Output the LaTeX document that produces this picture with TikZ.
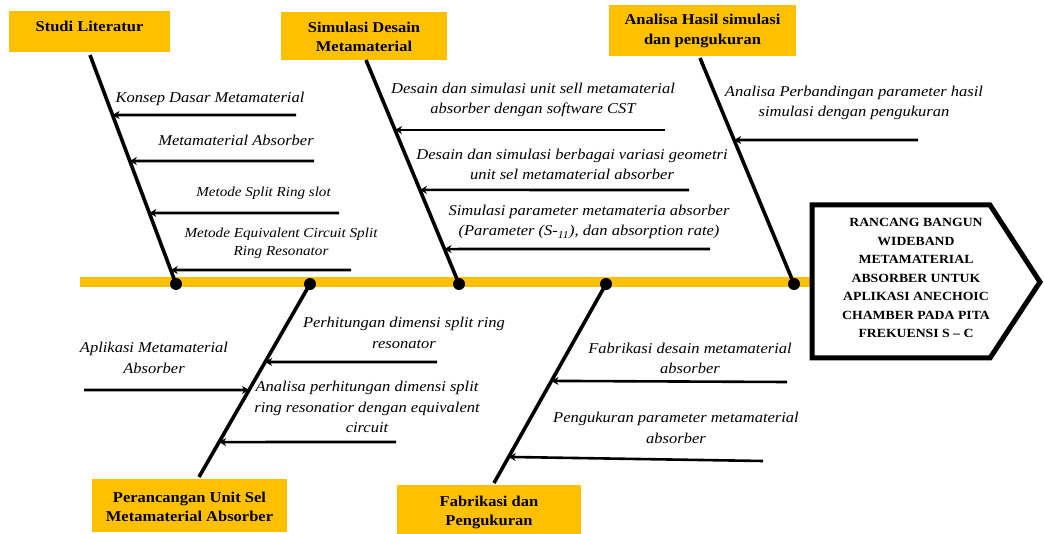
\documentclass[tikz,border=0pt]{standalone}
\usepackage{fontspec}
\setmainfont{Liberation Serif}[FakeStretch=1.1]
\usetikzlibrary{calc,arrows.meta}
\definecolor{ylw}{HTML}{FFC000}
\begin{document}
\begin{tikzpicture}[x=1pt,y=-1pt,
  catbox/.style={fill=ylw,inner sep=0pt,anchor=north west},
  cattext/.style={font=\fontsize{15}{19.5}\selectfont\bfseries,align=center,inner sep=0pt},
  bone/.style={line width=3.6pt},
  arr/.style={line width=2.6pt,-{Stealth[length=7pt,width=8pt]}},
  lbl/.style={font=\fontsize{15}{20.5}\selectfont\itshape,align=center,inner sep=0pt},
  dot/.style={circle,fill=black,inner sep=0pt,minimum size=12pt}]
\useasboundingbox (0,0) rectangle (1044,534);
% spine
\draw[ylw,line width=10pt] (80,282) -- (812,282);
% head
\coordinate (h1) at (812,205);
\coordinate (h2) at (990,205);
\coordinate (h3) at (1040,282);
\coordinate (h4) at (990,358);
\coordinate (h5) at (812,358);
\draw[line width=5pt,line join=miter,fill=white] (h1) -- (h2) -- (h3) -- (h4) -- (h5) -- cycle;
\node[font=\fontsize{12.5}{18.5}\selectfont\bfseries,align=center] (head) at (916,278)
 {RANCANG BANGUN\\WIDEBAND\\METAMATERIAL\\ABSORBER UNTUK\\APLIKASI ANECHOIC\\CHAMBER PADA PITA\\FREKUENSI S -- C};
% category boxes
\node[catbox,minimum width=161pt,minimum height=41pt] (c1) at (9,11) {};
\node[cattext] (c1t) at (89.5,26) {Studi Literatur};
\node[catbox,minimum width=166pt,minimum height=48pt] (c2) at (281,12) {};
\node[cattext] (c2t) at (364,37) {Simulasi Desain\\Metamaterial};
\node[catbox,minimum width=187pt,minimum height=51pt] (c3) at (609,5) {};
\node[cattext] (c3t) at (702.5,31) {Analisa Hasil simulasi\\dan pengukuran};
\node[catbox,minimum width=195pt,minimum height=53pt] (c4) at (92,479) {};
\node[cattext] (c4t) at (189.5,507) {Perancangan Unit Sel\\Metamaterial Absorber};
\node[catbox,minimum width=184pt,minimum height=49pt] (c5) at (397,485) {};
\node[cattext] (c5t) at (489,512.5) {Fabrikasi dan\\Pengukuran};
% bones
\coordinate (b1t) at (90,55);  \node[dot] (d1) at (176,284) {};
\coordinate (b2t) at (366,60); \node[dot] (d2) at (459,284) {};
\coordinate (b3t) at (700,58); \node[dot] (d3) at (794,284) {};
\node[dot] (d4) at (310,284) {}; \coordinate (b4b) at (199,477);
\node[dot] (d5) at (606,284) {}; \coordinate (b5b) at (494,483);
\draw[bone] (b1t) -- (d1.center);
\draw[bone] (b2t) -- (d2.center);
\draw[bone] (b3t) -- (d3.center);
\draw[bone] (d4.center) -- (b4b);
\draw[bone] (d5.center) -- (b5b);
% bone 1 arrows
\coordinate (a11) at (296,115); \coordinate (a12) at (314,161);
\coordinate (a13) at (339,213); \coordinate (a14) at (351,270);
\draw[arr] (a11) -- ($(b1t)!0.262!(d1.center)$);
\draw[arr] (a12) -- ($(b1t)!0.463!(d1.center)$);
\draw[arr] (a13) -- ($(b1t)!0.690!(d1.center)$);
\draw[arr] (a14) -- ($(b1t)!0.939!(d1.center)$);
\node[lbl] (l11) at (210,99) {Konsep Dasar Metamaterial};
\node[lbl] (l12) at (236,140) {Metamaterial Absorber};
\node[lbl,font=\fontsize{13.7}{18.5}\selectfont\itshape] (l13) at (263.5,193) {Metode Split Ring slot};
\node[lbl,font=\fontsize{13.8}{18.5}\selectfont\itshape] (l14) at (281,243) {Metode Equivalent Circuit Split\\Ring Resonator};
% bone 2 arrows
\coordinate (a21) at (665,130); \coordinate (a22) at (689,190); \coordinate (a23) at (710,249);
\draw[arr] (a21) -- ($(b2t)!0.3125!(d2.center)$);
\draw[arr] (a22) -- ($(b2t)!0.580!(d2.center)$);
\draw[arr] (a23) -- ($(b2t)!0.844!(d2.center)$);
\node[lbl] (l21) at (533,100) {Desain dan simulasi unit sell metamaterial\\absorber dengan software CST};
\node[lbl] (l22) at (572,164.5) {Desain dan simulasi berbagai variasi geometri\\unit sel metamaterial absorber};
\node[lbl] (l23) at (589,222) {Simulasi parameter metamateria absorber\\(Parameter (S-\textsubscript{11}), dan absorption rate)};
% bone 3 arrow
\coordinate (a31) at (918,140);
\draw[arr] (a31) -- ($(b3t)!0.363!(d3.center)$);
\node[lbl] (l31) at (854,103) {Analisa Perbandingan parameter hasil\\simulasi dengan pengukuran};
% bone 4 arrows
\coordinate (a41) at (437,362); \coordinate (a42) at (84,390); \coordinate (a43) at (396,442);
\draw[arr] (a41) -- ($(d4.center)!0.404!(b4b)$);
\draw[arr] (a42) -- ($(d4.center)!0.549!(b4b)$);
\draw[arr] (a43) -- ($(d4.center)!0.819!(b4b)$);
\node[lbl] (l41) at (404,333) {Perhitungan dimensi split ring\\resonator};
\node[lbl] (l42) at (154,358) {Aplikasi Metamaterial\\Absorber};
\node[lbl] (l43) at (367,407) {Analisa perhitungan dimensi split\\ring resonatior dengan equivalent\\circuit};
% bone 5 arrows
\coordinate (a51) at (787,382); \coordinate (a52) at (763,461);
\draw[arr] (a51) -- ($(d5.center)!0.487!(b5b)$);
\draw[arr] (a52) -- ($(d5.center)!0.869!(b5b)$);
\node[lbl] (l51) at (690,358.5) {Fabrikasi desain metamaterial\\absorber};
\node[lbl] (l52) at (676,428) {Pengukuran parameter metamaterial\\absorber};
\end{tikzpicture}
\end{document}
